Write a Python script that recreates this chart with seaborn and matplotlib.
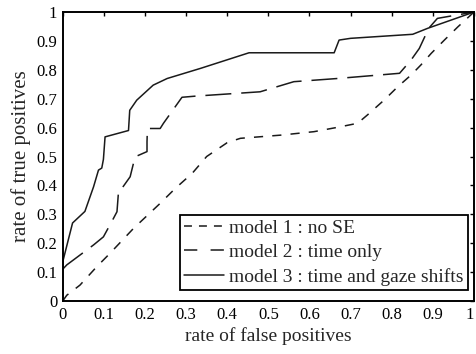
import matplotlib
matplotlib.use("Agg")
import matplotlib.pyplot as plt
import seaborn as sns
import pandas as pd

# ---- data ----
m1_fpr = [0, 0.01, 0.042, 0.083, 0.115, 0.172, 0.237, 0.274, 0.315, 0.35, 0.40, 0.432,
          0.53, 0.611, 0.668, 0.717, 0.741, 0.782, 0.815, 0.847, 0.871, 0.896, 0.928, 0.961, 1.0]
m1_tpr = [0, 0.02, 0.055, 0.119, 0.165, 0.251, 0.338, 0.39, 0.442, 0.50, 0.548, 0.563,
          0.574, 0.586, 0.601, 0.615, 0.644, 0.696, 0.742, 0.782, 0.817, 0.857, 0.903, 0.949, 1.0]

m2_fpr = [0, 0.01, 0.075, 0.099, 0.119, 0.132, 0.136, 0.144, 0.164, 0.176, 0.205, 0.205,
          0.206, 0.237, 0.245, 0.262, 0.29, 0.323, 0.48, 0.562, 0.668, 0.819, 0.847, 0.867,
          0.89, 0.911, 0.943, 1.0]
m2_tpr = [0.11, 0.125, 0.194, 0.222, 0.274, 0.309, 0.384, 0.39, 0.43, 0.499, 0.517, 0.551,
          0.597, 0.597, 0.615, 0.649, 0.705, 0.709, 0.724, 0.759, 0.77, 0.788, 0.834, 0.874,
          0.944, 0.978, 0.986, 1.0]

m3_fpr = [0, 0, 0.024, 0.054, 0.075, 0.087, 0.095, 0.099, 0.103, 0.16, 0.163, 0.18, 0.22,
          0.254, 0.335, 0.453, 0.66, 0.672, 0.70, 0.851, 0.888, 1.0]
m3_tpr = [0.12, 0.135, 0.27, 0.31, 0.395, 0.453, 0.46, 0.49, 0.568, 0.59, 0.66, 0.695, 0.747,
          0.77, 0.805, 0.859, 0.859, 0.903, 0.909, 0.923, 0.944, 1.0]

labels = ["model 1 : no SE", "model 2 : time only", "model 3 : time and gaze shifts"]
tick_vals = [0, 0.1, 0.2, 0.3, 0.4, 0.5, 0.6, 0.7, 0.8, 0.9, 1]
tick_labels = ["0", "0.1", "0.2", "0.3", "0.4", "0.5", "0.6", "0.7", "0.8", "0.9", "1"]

sns.set_style("white")
plt.rcParams["font.family"] = ["Liberation Serif", "DejaVu Serif"]
plt.rcParams["font.size"] = 12

fig = plt.figure(figsize=(4.76, 3.54), dpi=100)
ax = fig.add_axes([0.1317, 0.1497, 0.9958 - 0.1317, 0.966 - 0.1497])

color = "#1a1a1a"
series = [(m1_fpr, m1_tpr, (6, 6)), (m2_fpr, m2_tpr, (17, 6.5)), (m3_fpr, m3_tpr, None)]
for (fx, fy, dash), lab in zip(series, labels):
    df = pd.DataFrame({"fpr": fx, "tpr": fy})
    sns.lineplot(data=df, x="fpr", y="tpr", ax=ax, estimator=None, sort=False,
                 color=color, linewidth=1.1, label=lab)
    if dash is not None:
        ax.lines[-1].set_dashes(dash)

ax.set_xlim(0, 1)
ax.set_ylim(0, 1)
ax.set_xticks(tick_vals)
ax.set_xticklabels(tick_labels)
ax.set_yticks(tick_vals)
ax.set_yticklabels(tick_labels)
ax.tick_params(direction="in", length=3, width=1, top=True, right=True,
               labelsize=12, colors="black", pad=4)
ax.get_xticklabels()[-1].set_horizontalalignment("right")
for s in ax.spines.values():
    s.set_visible(True)
    s.set_color("black")
    s.set_linewidth(1.4)
ax.set_xlabel("rate of false positives", fontsize=14, labelpad=3)
ax.set_ylabel("rate of true positives", fontsize=15, labelpad=4)

leg = ax.legend(loc="lower right", bbox_to_anchor=(0.985, 0.039), borderaxespad=0,
                fancybox=False, framealpha=1, edgecolor="black", fontsize=14,
                handlelength=2.05, handletextpad=0.28, borderpad=0.2, labelspacing=0.35)
leg.get_frame().set_linewidth(1.3)
for h, d in zip(leg.get_lines(), [(5.2, 4.6), (8.7, 8.7), None]):
    if d is not None:
        h.set_dashes(d)

fig.savefig("out.png", dpi=100)
